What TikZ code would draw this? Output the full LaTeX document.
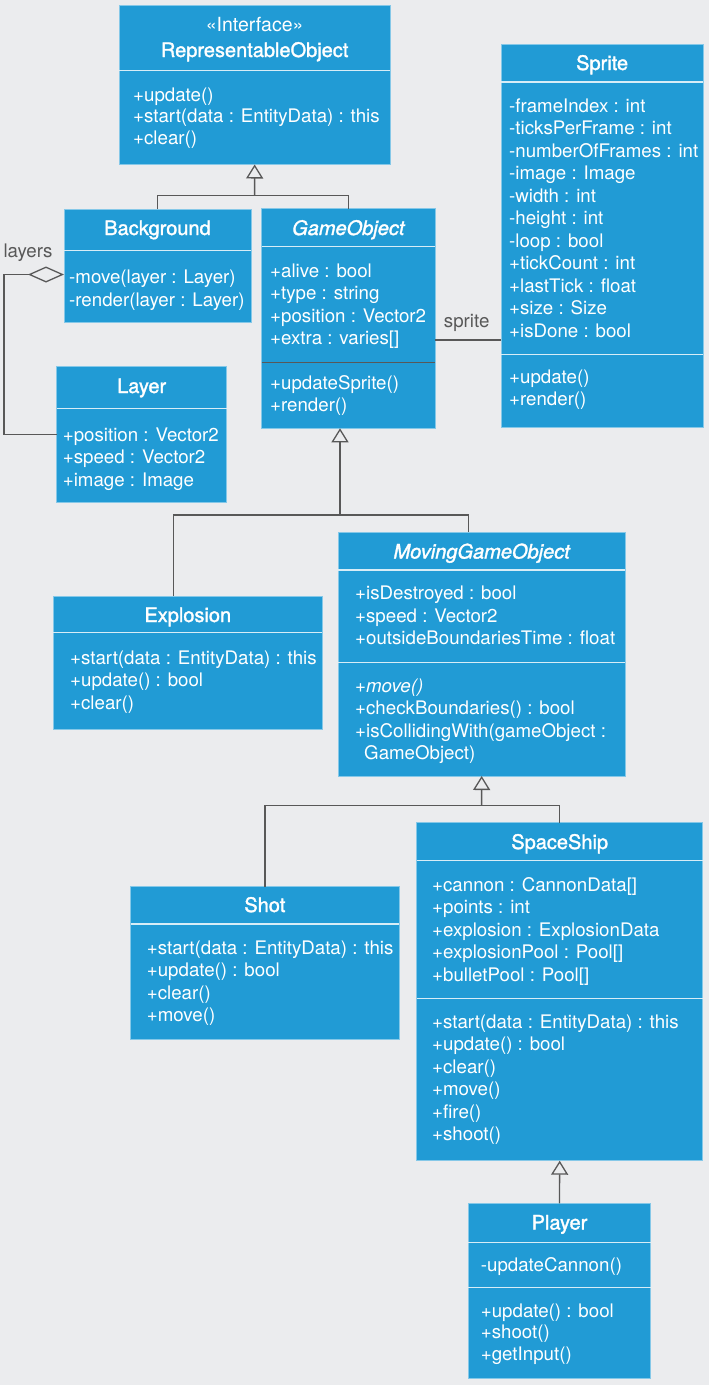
\documentclass[tikz,border=0pt]{standalone}
\usepackage{fontspec}
\setmainfont{TeX Gyre Heros}
\newfontfamily\classnamefont[FakeBold=1.6]{TeX Gyre Heros}
\usetikzlibrary{arrows.meta,fit}

\definecolor{canvas}{RGB}{235,236,238}
\definecolor{classblue}{RGB}{33,155,213}
\definecolor{wire}{RGB}{88,88,88}

\tikzset{
  classbox/.style={draw=white!45!classblue, line width=0.7pt, fill=classblue, inner sep=0pt, outer sep=0pt},
  rule/.style={draw=white!82!classblue, line width=1.4pt},
  darkrule/.style={draw=wire, line width=1.3pt},
  member/.style={anchor=base west, inner sep=0pt, text=white, font=\fontsize{18.7}{22}\selectfont},
  cname/.style={anchor=base, inner sep=0pt, text=white, font=\classnamefont\fontsize{20}{22}\selectfont},
  stereo/.style={anchor=base, inner sep=0pt, text=white, font=\fontsize{19.5}{22}\selectfont},
  link/.style={draw=wire, line width=1.3pt},
  inherit/.style={link, -{Triangle[open, width=17pt, length=14pt]}},
  aggregate/.style={link, {Diamond[open, width=16pt, length=36pt]}-},
  role/.style={anchor=base, inner sep=0pt, text=wire, font=\fontsize{18.7}{22}\selectfont},
}

% compartment separator across a class box at height #3
\newcommand\divider[3][rule]{\draw[#1] (#2.west |- 0,#3) -- (#2.east |- 0,#3);}
% one text line per member: prefix, left x, first baseline, line pitch, list
\newcommand\memberlist[5]{%
  \foreach \t [count=\i] in {#5}{\node[member] (#1-\i) at ({#2},{#3+#4*(\i-1)}) {\t};}}

\begin{document}
\begin{tikzpicture}[x=1pt,y=-1pt]
\useasboundingbox (0,0) rectangle (709,1385);
\fill[canvas] (0,0) rectangle (709,1385);

% ---------- class boxes ----------
\node[classbox, fit={(119.3,5.3) (390,164.5)}] (rep) {};
\node[classbox, fit={(64,209) (251,322.3)}] (bg) {};
\node[classbox, fit={(261.7,208.5) (435,428.3)}] (go) {};
\node[classbox, fit={(501,44.3) (703.3,427.3)}] (sprite) {};
\node[classbox, fit={(56.7,366.7) (226.7,502.3)}] (layer) {};
\node[classbox, fit={(53.3,596) (322.3,729.3)}] (expl) {};
\node[classbox, fit={(338.3,532.3) (625,776)}] (mgo) {};
\node[classbox, fit={(130.7,886.7) (399,1039.3)}] (shot) {};
\node[classbox, fit={(416.7,822.7) (702.7,1160.7)}] (ss) {};
\node[classbox, fit={(468.3,1203.3) (650.7,1378.3)}] (player) {};

% ---------- compartments ----------
\divider{rep}{70.7}
\divider{bg}{250.7}
\divider{go}{246.7}
\divider[darkrule]{go}{362.7}
\divider{sprite}{82}
\divider{sprite}{354.3}
\divider{layer}{408.3}
\divider{expl}{632.7}
\divider{mgo}{570}
\divider{mgo}{662.7}
\divider{shot}{924}
\divider{ss}{860.7}
\divider{ss}{998.3}
\divider{player}{1242.7}
\divider{player}{1287.7}

% ---------- class names ----------
\node[stereo] (rep-s) at (rep.center |- 0,31) {«Interface»};
\node[cname] (rep-t) at (rep.center |- 0,57) {RepresentableObject};
\node[cname] (bg-t) at (bg.center |- 0,235) {Background};
\node[cname] (go-t) at (go.center |- 0,235) {\itshape GameObject};
\node[cname] (sprite-t) at (sprite.center |- 0,70) {Sprite};
\node[cname] (layer-t) at (layer.center |- 0,393) {Layer};
\node[cname] (expl-t) at (expl.center |- 0,622) {Explosion};
\node[cname] (mgo-t) at (mgo.center |- 0,558.5) {\itshape MovingGameObject};
\node[cname] (shot-t) at (shot.center |- 0,912) {Shot};
\node[cname] (ss-t) at (ss.center |- 0,849) {SpaceShip};
\node[cname] (player-t) at (player.center |- 0,1229.5) {Player};

% ---------- members ----------
\memberlist{rep-m}{133}{101}{21.7}{{+update()},{+start(data : EntityData) : this},{+clear()}}
\memberlist{bg-m}{69}{283}{23}{{-move(layer : Layer)},{-render(layer : Layer)}}
\memberlist{go-a}{270}{277}{22.5}{{+alive : bool},{+type : string},{+position : Vector2},{+extra : varies[]}}
\memberlist{go-m}{270}{389}{22.5}{{+updateSprite()},{+render()}}
\memberlist{sprite-a}{509}{112}{22.5}{{-frameIndex : int},{-ticksPerFrame : int},{-numberOfFrames : int},{-image : Image},{-width : int},{-height : int},{-loop : bool},{+tickCount : int},{+lastTick : float},{+size : Size},{+isDone : bool}}
\memberlist{sprite-m}{509}{383}{22}{{+update()},{+render()}}
\memberlist{layer-a}{62.7}{441}{22.5}{{+position : Vector2},{+speed : Vector2},{+image : Image}}
\memberlist{expl-m}{70}{664}{22.5}{{+start(data : EntityData) : this},{+update() : bool},{+clear()}}
\memberlist{mgo-a}{355}{599.5}{22.5}{{+isDestroyed : bool},{+speed : Vector2},{+outsideBoundariesTime : float}}
\memberlist{mgo-m}{355}{692}{22.5}{{+\textit{move()}},{+checkBoundaries() : bool},{+isCollidingWith(gameObject :}}
\node[member] (mgo-m4) at (364,759.5) {GameObject)};
\memberlist{shot-m}{146.7}{954}{22.5}{{+start(data : EntityData) : this},{+update() : bool},{+clear()},{+move()}}
\memberlist{ss-a}{432}{891}{22.5}{{+cannon : CannonData[]},{+points : int},{+explosion : ExplosionData},{+explosionPool : Pool[]},{+bulletPool : Pool[]}}
\memberlist{ss-m}{432}{1028}{22.5}{{+start(data : EntityData) : this},{+update() : bool},{+clear()},{+move()},{+fire()},{+shoot()}}
\memberlist{player-a}{480.7}{1271}{22}{{-updateCannon()}}
\memberlist{player-m}{480.7}{1317}{21.5}{{+update() : bool},{+shoot()},{+getInput()}}

% ---------- relations ----------
% Background and GameObject realize RepresentableObject
\coordinate (j1) at (254.6,195.7);
\draw[link] (bg.north) |- (j1) -| (go.north);
\draw[inherit] (j1) -- (rep.south);

% Explosion and MovingGameObject extend GameObject
\coordinate (j2) at (340,515);
\coordinate (j2l) at (173.3,515);
\coordinate (j2r) at (468.5,515);
\draw[link] (j2l |- expl.north) -- (j2l) -- (j2r) -- (j2r |- mgo.north);
\draw[inherit] (j2) -- (j2 |- go.south);

% Shot and SpaceShip extend MovingGameObject
\coordinate (j3) at (481.6,805.7);
\draw[link] (shot.north) |- (j3) -| (ss.north);
\draw[inherit] (j3) -- (mgo.south);

% Player extends SpaceShip
\draw[inherit] (player.north) -- (ss.south);

% Background aggregates layers
\coordinate (a1) at (4,274.5);
\coordinate (a2) at (4,434.5);
\draw[aggregate] (bg.west |- a1) -- (a1) -- (a2) -- (layer.west |- a2);
\node[role, anchor=base west] (layers-lbl) at (3.3,257) {layers};

% GameObject holds a sprite
\draw[link] (go.east |- 0,340) -- (sprite.west |- 0,340);
\node[role] (sprite-lbl) at (466.7,327) {sprite};
\end{tikzpicture}
\end{document}
